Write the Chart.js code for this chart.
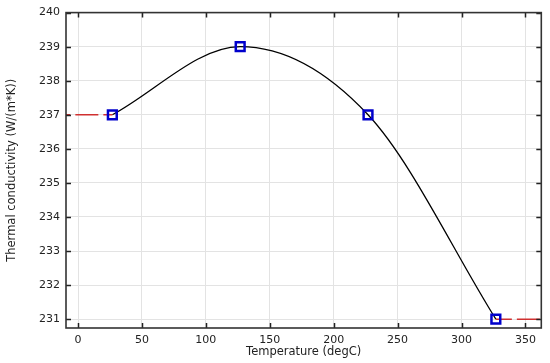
<!DOCTYPE html>
<html>
<head>
<meta charset="utf-8">
<script src="https://cdn.jsdelivr.net/npm/chart.js@4"></script>
<style>
html,body{margin:0;padding:0;background:#fff;}
#wrap{width:550px;height:363px;position:relative;}
</style>
</head>
<body>
<div id="wrap"><canvas id="c" width="550" height="363"></canvas></div>
<script>
// Data
const temperatures = [26.85, 126.85, 226.85, 326.85];
const conductivity = [237, 239, 237, 231];
const leftExtrapX = [26.85, -9.4];
const leftExtrapY = [237, 237];
const rightExtrapX = [326.85, 362.4];
const rightExtrapY = [231, 231];
const xTicks = [0, 50, 100, 150, 200, 250, 300, 350];
const yTicks = [231, 232, 233, 234, 235, 236, 237, 238, 239, 240];

const pts = (xs, ys) => xs.map((x, i) => ({x: x, y: ys[i]}));

const boxTicks = {
  id: 'boxTicks',
  afterDraw(chart) {
    const {ctx, chartArea: a, scales: {x, y}} = chart;
    ctx.save();
    ctx.strokeStyle = '#222';
    ctx.lineWidth = 1.5;
    ctx.beginPath();
    xTicks.forEach(v => {
      const px = Math.round(x.getPixelForValue(v)) + 0.5;
      ctx.moveTo(px, a.bottom); ctx.lineTo(px, a.bottom - 5);
      ctx.moveTo(px, a.top); ctx.lineTo(px, a.top + 5);
    });
    yTicks.forEach(v => {
      const py = Math.round(y.getPixelForValue(v)) + 0.5;
      ctx.moveTo(a.left, py); ctx.lineTo(a.left + 5, py);
      ctx.moveTo(a.right, py); ctx.lineTo(a.right - 5, py);
    });
    ctx.stroke();
    ctx.lineWidth = 1.6;
    ctx.strokeStyle = '#333';
    ctx.strokeRect(a.left, a.top, a.right - a.left, a.bottom - a.top);
    ctx.restore();
  }
};

new Chart(document.getElementById('c'), {
  type: 'scatter',
  data: {
    datasets: [
      {
        label: 'curve',
        data: pts(temperatures, conductivity),
        showLine: true,
        borderColor: '#000',
        borderWidth: 1.3,
        pointRadius: 0,
        cubicInterpolationMode: 'monotone',
        order: 3
      },
      {
        label: 'left',
        data: pts(leftExtrapX, leftExtrapY),
        showLine: true,
        borderColor: '#d03030',
        borderWidth: 1.5,
        borderDash: [23, 5],
        borderDashOffset: 14,
        pointRadius: 0,
        order: 2
      },
      {
        label: 'right',
        data: pts(rightExtrapX, rightExtrapY),
        showLine: true,
        borderColor: '#d03030',
        borderWidth: 1.5,
        borderDash: [23, 5],
        borderDashOffset: 7,
        pointRadius: 0,
        order: 2
      },
      {
        label: 'points',
        data: pts(temperatures, conductivity),
        showLine: false,
        pointStyle: 'rect',
        pointRadius: 6.2,
        pointBorderWidth: 2.5,
        pointBorderColor: '#0000cc',
        pointBackgroundColor: 'rgba(0,0,0,0)',
        order: 1
      }
    ]
  },
  options: {
    responsive: false,
    animation: false,
    events: [],
    layout: {padding: {top: 7, right: 7, left: 0, bottom: 0}},
    plugins: {legend: {display: false}, tooltip: {enabled: false}},
    scales: {
      x: {
        type: 'linear',
        min: -9.4,
        max: 362.4,
        afterBuildTicks: s => { s.ticks = xTicks.map(v => ({value: v})); },
        afterFit: s => { s.height = 35; },
        grid: {color: '#e3e3e3', lineWidth: 1, drawTicks: false},
        border: {display: false},
        ticks: {color: '#222', font: {family: 'DejaVu Sans', size: 11}, padding: 6, maxRotation: 0},
        title: {display: true, text: 'Temperature (degC)', color: '#222', font: {family: 'DejaVu Sans', size: 11.5}, padding: {top: 0, bottom: 4}}
      },
      y: {
        type: 'linear',
        min: 230.74,
        max: 240,
        afterBuildTicks: s => { s.ticks = yTicks.map(v => ({value: v})); },
        afterFit: s => { s.width = 66; },
        grid: {color: '#e3e3e3', lineWidth: 1, drawTicks: false},
        border: {display: false},
        ticks: {color: '#222', font: {family: 'DejaVu Sans', size: 11}, padding: 6},
        title: {display: true, text: 'Thermal conductivity (W/(m*K))', color: '#222', font: {family: 'DejaVu Sans', size: 11.5}, padding: {top: 5, bottom: 0}}
      }
    }
  },
  plugins: [boxTicks]
});
</script>
</body>
</html>
